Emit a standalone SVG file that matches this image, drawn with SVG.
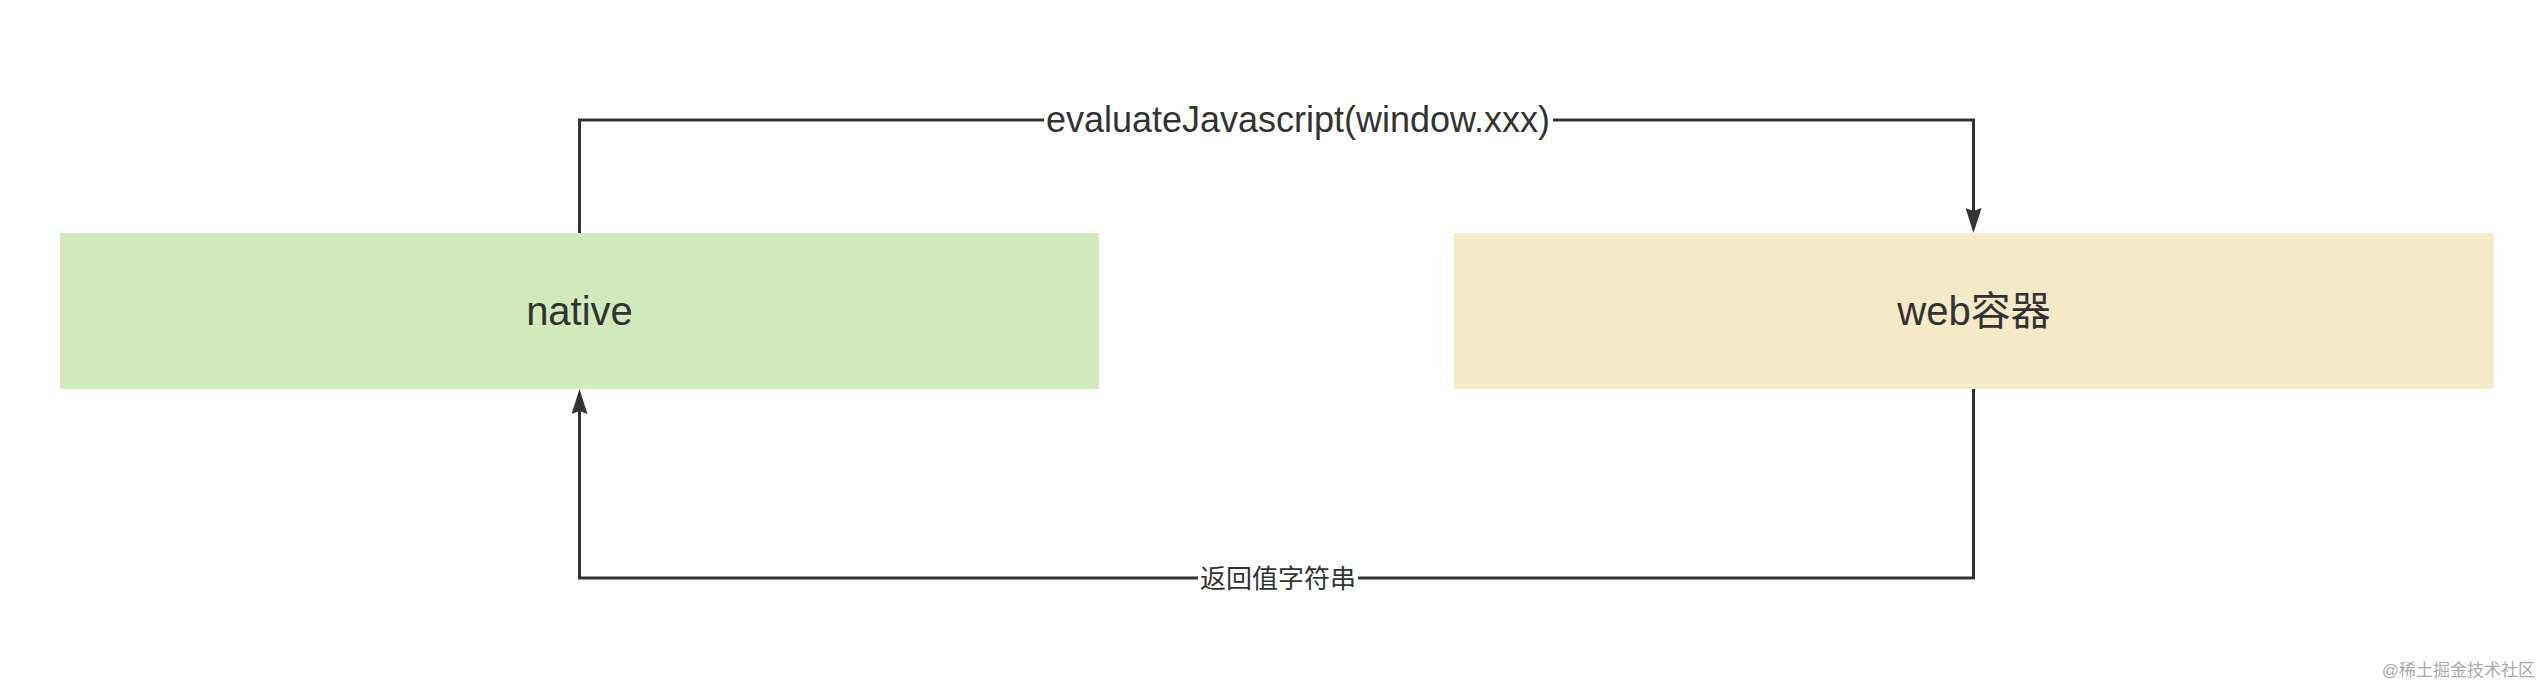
<svg xmlns="http://www.w3.org/2000/svg" width="2546" height="684" viewBox="0 0 2546 684">
  <style>
    .node-text { font-family: "Liberation Sans", "Noto Sans CJK SC", sans-serif; font-size: 40px; fill: #333333; text-anchor: middle; }
    .edge-label { font-family: "Liberation Sans", "Noto Sans CJK SC", sans-serif; fill: #333333; text-anchor: middle; }
    .edge { fill: none; stroke: #333333; stroke-width: 3; }
    .label-bg { fill: #ffffff; }
    .watermark { font-family: "Liberation Sans", "Noto Sans CJK SC", sans-serif; font-size: 17px; fill: #aaaaaa; text-anchor: end; }
  </style>
  <defs>
    <marker id="arrow" viewBox="0 0 25 16" refX="3" refY="8" markerWidth="25" markerHeight="16" markerUnits="userSpaceOnUse" orient="auto">
      <path d="M0,0 L25,8 L0,16 L3,8 Z" fill="#333333"/>
    </marker>
  </defs>
  <rect x="0" y="0" width="2546" height="684" fill="#ffffff"/>

  <g id="node-native">
    <rect x="60" y="233" width="1039" height="156" fill="#d0eabb"/>
    <text class="node-text" x="579.5" y="325">native</text>
  </g>

  <g id="node-web">
    <rect x="1454" y="233" width="1040" height="156" fill="#f4eac8"/>
    <text class="node-text" x="1974" y="325">web容器</text>
  </g>

  <g id="connectors">
    <g id="edge-evaluate">
      <path class="edge" d="M579.5,233 V120 H1973.5 V211" marker-end="url(#arrow)"/>
      <rect class="label-bg" x="1044" y="100" width="509" height="44"/>
      <text class="edge-label" x="1298" y="132" font-size="36">evaluateJavascript(window.xxx)</text>
    </g>
    <g id="edge-return">
      <path class="edge" d="M1973.5,389 V578 H579.5 V411" marker-end="url(#arrow)"/>
      <rect class="label-bg" x="1198" y="562" width="160" height="32"/>
      <text class="edge-label" x="1278" y="588" font-size="26">返回值字符串</text>
    </g>
  </g>

  <text class="watermark" x="2535" y="676">@稀土掘金技术社区</text>
</svg>
